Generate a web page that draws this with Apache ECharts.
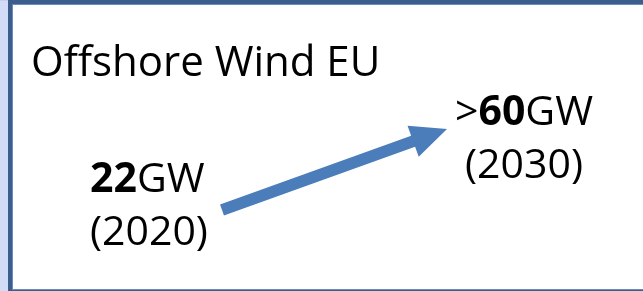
<!DOCTYPE html>
<html>
<head>
<meta charset="utf-8">
<script src="https://cdn.jsdelivr.net/npm/echarts@6/dist/echarts.min.js"></script>
<style>
html,body{margin:0;padding:0;background:#fff;}
#chart{width:643px;height:291px;}
</style>
</head>
<body>
<div id="chart"></div>
<script>
// Data
var titleText = 'Offshore Wind EU';
var years = [2020, 2030];
var capacityGW = [22, 60];
var capacityPrefix = ['', '>'];
var unit = 'GW';

var chart = echarts.init(document.getElementById('chart'), null, {renderer: 'canvas'});
var FONT = '"Open Sans", sans-serif';

var points = years.map(function (y, i) { return [y, capacityGW[i]]; });

var option = {
  animation: false,
  backgroundColor: '#ffffff',
  title: {
    text: titleText,
    left: 31,
    top: 43,
    padding: 0,
    textStyle: {fontFamily: FONT, fontSize: 42, fontWeight: 'normal', color: '#000'}
  },
  graphic: [
    {type: 'rect', z: -10, shape: {x: 0, y: 0, width: 9, height: 291}, style: {fill: '#d3dcf7'}},
    {type: 'rect', z: -10, shape: {x: 0, y: 0, width: 9, height: 1}, style: {fill: '#c6cff0'}},
    {type: 'rect', z: -9, shape: {x: 8, y: 0, width: 635, height: 291}, style: {fill: '#3b5e8d'}},
    {type: 'rect', z: -8, shape: {x: 12, y: 4, width: 631, height: 286}, style: {fill: '#6b8cbb'}},
    {type: 'rect', z: -7, shape: {x: 13, y: 5, width: 630, height: 284}, style: {fill: '#ffffff'}}
  ],
  grid: {left: 109.5, top: 86.4, width: 450, height: 170.5, show: false},
  xAxis: {type: 'value', min: 2015, max: 2035, show: false},
  yAxis: {type: 'value', min: 0, max: 80, show: false},
  series: [
    {
      type: 'custom',
      coordinateSystem: 'cartesian2d',
      data: [[points[0][0], points[0][1], points[1][0], points[1][1]]],
      encode: {x: [0, 2], y: [1, 3]},
      renderItem: function (params, api) {
        var p0 = api.coord([api.value(0), api.value(1)]);
        var p1 = api.coord([api.value(2), api.value(3)]);
        var dx = p1[0] - p0[0], dy = p1[1] - p0[1];
        var len = Math.sqrt(dx * dx + dy * dy);
        var ux = dx / len, uy = dy / len;
        var nx = -uy, ny = ux;
        var shaftHalf = 5.8, headHalf = 16.5, headLen = 36;
        var bx = p1[0] - ux * headLen, by = p1[1] - uy * headLen;
        var pts = [
          [p0[0] + nx * shaftHalf, p0[1] + ny * shaftHalf],
          [bx + nx * shaftHalf, by + ny * shaftHalf],
          [bx + nx * headHalf, by + ny * headHalf],
          [p1[0], p1[1]],
          [bx - nx * headHalf, by - ny * headHalf],
          [bx - nx * shaftHalf, by - ny * shaftHalf],
          [p0[0] - nx * shaftHalf, p0[1] - ny * shaftHalf]
        ];
        return {type: 'polygon', shape: {points: pts}, style: {fill: '#4a7dba'}};
      },
      silent: true
    },
    {
      type: 'custom',
      coordinateSystem: 'cartesian2d',
      data: points,
      renderItem: function (params, api) {
        var i = params.dataIndex;
        var p = api.coord([api.value(0), api.value(1)]);
        var line1 = capacityPrefix[i] + '{b|' + capacityGW[i] + '}' + unit;
        var line2 = '(' + years[i] + ')';
        var base = {fontFamily: FONT, fontSize: 41, fill: '#000', verticalAlign: 'middle',
          rich: {b: {fontFamily: FONT, fontSize: 41, fontWeight: 'bold', fill: '#000'}}};
        var x, align, y1, y2;
        if (i === 0) {
          x = p[0] - 132; align = 'left'; y1 = p[1] - 30; y2 = p[1] + 23;
        } else {
          x = p[0] + 77; align = 'center'; y1 = p[1] - 16; y2 = p[1] + 37;
        }
        return {
          type: 'group',
          children: [
            {type: 'text', style: Object.assign({}, base, {text: line1, x: x, y: y1, align: align})},
            {type: 'text', style: Object.assign({}, base, {text: line2, x: x, y: y2, align: align})}
          ]
        };
      },
      silent: true
    }
  ]
};
chart.setOption(option);
</script>
</body>
</html>
